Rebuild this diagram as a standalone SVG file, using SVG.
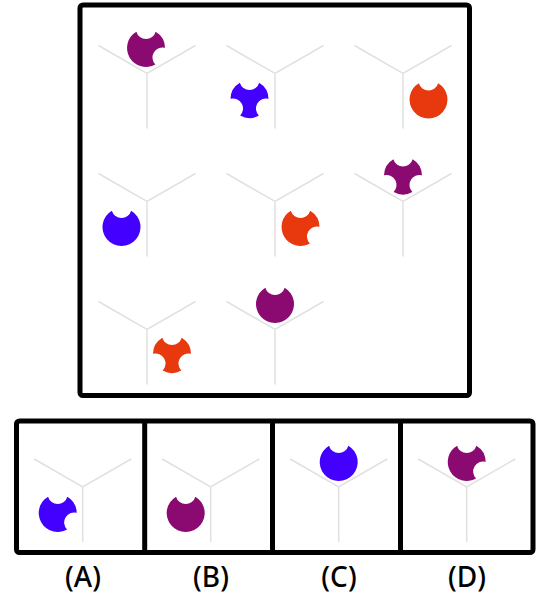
<svg xmlns="http://www.w3.org/2000/svg" xmlns:xlink="http://www.w3.org/1999/xlink" width="550" height="600" viewBox="0 0 550 600">
<style>
.frame{fill:none;stroke:#000;stroke-width:5;stroke-linejoin:round}
.div{stroke:#000;stroke-width:5}
.yl{fill:none;stroke:#e0e0e0;stroke-width:1.5}
.pu{fill:#8a0a72}
.bl{fill:#4300ff}
.rd{fill:#e8380e}
.lbl{font-family:"Noto Sans","Open Sans",sans-serif;font-size:28px;font-weight:500;fill:#000;text-anchor:middle}
</style>
<defs>
<path id="y" class="yl" d="M-48.5,-28 L0,0 L48.5,-28 M0,0 L0,55"/>
<path id="n1" d="M9.643,-16.37 A19,19 0 1 1 -9.643,-16.37 A10,10 0 0 0 9.643,-16.37 Z"/>
<path id="n2" d="M9.643,-16.37 A19,19 0 0 1 18.999,-0.166 A10,10 0 0 0 9.356,16.537 A19,19 0 0 1 -9.643,-16.37 A10,10 0 0 0 9.643,-16.37 Z"/>
<path id="n3" d="M9.643,-16.37 A19,19 0 0 1 18.999,-0.166 A10,10 0 0 0 9.356,16.537 A19,19 0 0 1 -9.356,16.537 A10,10 0 0 0 -18.999,-0.166 A19,19 0 0 1 -9.643,-16.37 A10,10 0 0 0 9.643,-16.37 Z"/>
</defs>
<rect class="frame" x="80" y="5" width="389.5" height="390.5" rx="3"/>
<g id="cell-1-1" transform="translate(147,73.5)"><use xlink:href="#y"/><use xlink:href="#n2" class="pu" x="-1" y="-25.5"/></g>
<g id="cell-1-2" transform="translate(275,73.5)"><use xlink:href="#y"/><use xlink:href="#n3" class="bl" x="-25.5" y="25.5"/></g>
<g id="cell-1-3" transform="translate(403,73.5)"><use xlink:href="#y"/><use xlink:href="#n1" class="rd" x="25.5" y="26"/></g>
<g id="cell-2-1" transform="translate(147,201.5)"><use xlink:href="#y"/><use xlink:href="#n1" class="bl" x="-25.5" y="25.5"/></g>
<g id="cell-2-2" transform="translate(275,201.5)"><use xlink:href="#y"/><use xlink:href="#n2" class="rd" x="25.5" y="25.5"/></g>
<g id="cell-2-3" transform="translate(403,201.5)"><use xlink:href="#y"/><use xlink:href="#n3" class="pu" x="0" y="-26"/></g>
<g id="cell-3-1" transform="translate(147,329.5)"><use xlink:href="#y"/><use xlink:href="#n3" class="rd" x="25" y="24.5"/></g>
<g id="cell-3-2" transform="translate(275,329.5)"><use xlink:href="#y"/><use xlink:href="#n1" class="pu" x="0" y="-25.5"/></g>
<g id="cell-3-3"/>
<rect class="frame" x="16.5" y="421" width="516.5" height="131.5" rx="3"/>
<line class="div" x1="144.7" y1="421" x2="144.7" y2="552.5"/>
<line class="div" x1="272.5" y1="421" x2="272.5" y2="552.5"/>
<line class="div" x1="400.5" y1="421" x2="400.5" y2="552.5"/>
<g id="option-A" transform="translate(82.7,487)"><use xlink:href="#y"/><use xlink:href="#n2" class="bl" x="-25" y="26"/></g>
<g id="option-B" transform="translate(210.7,487)"><use xlink:href="#y"/><use xlink:href="#n1" class="pu" x="-25" y="26"/></g>
<g id="option-C" transform="translate(338.7,487)"><use xlink:href="#y"/><use xlink:href="#n1" class="bl" x="0" y="-25"/></g>
<g id="option-D" transform="translate(466.7,487)"><use xlink:href="#y"/><use xlink:href="#n2" class="pu" x="0" y="-25"/></g>
<g id="labels">
<text class="lbl" x="83" y="586.5">(A)</text>
<text class="lbl" x="211" y="586.5">(B)</text>
<text class="lbl" x="339" y="586.5">(C)</text>
<text class="lbl" x="467" y="586.5">(D)</text>
</g>
</svg>
